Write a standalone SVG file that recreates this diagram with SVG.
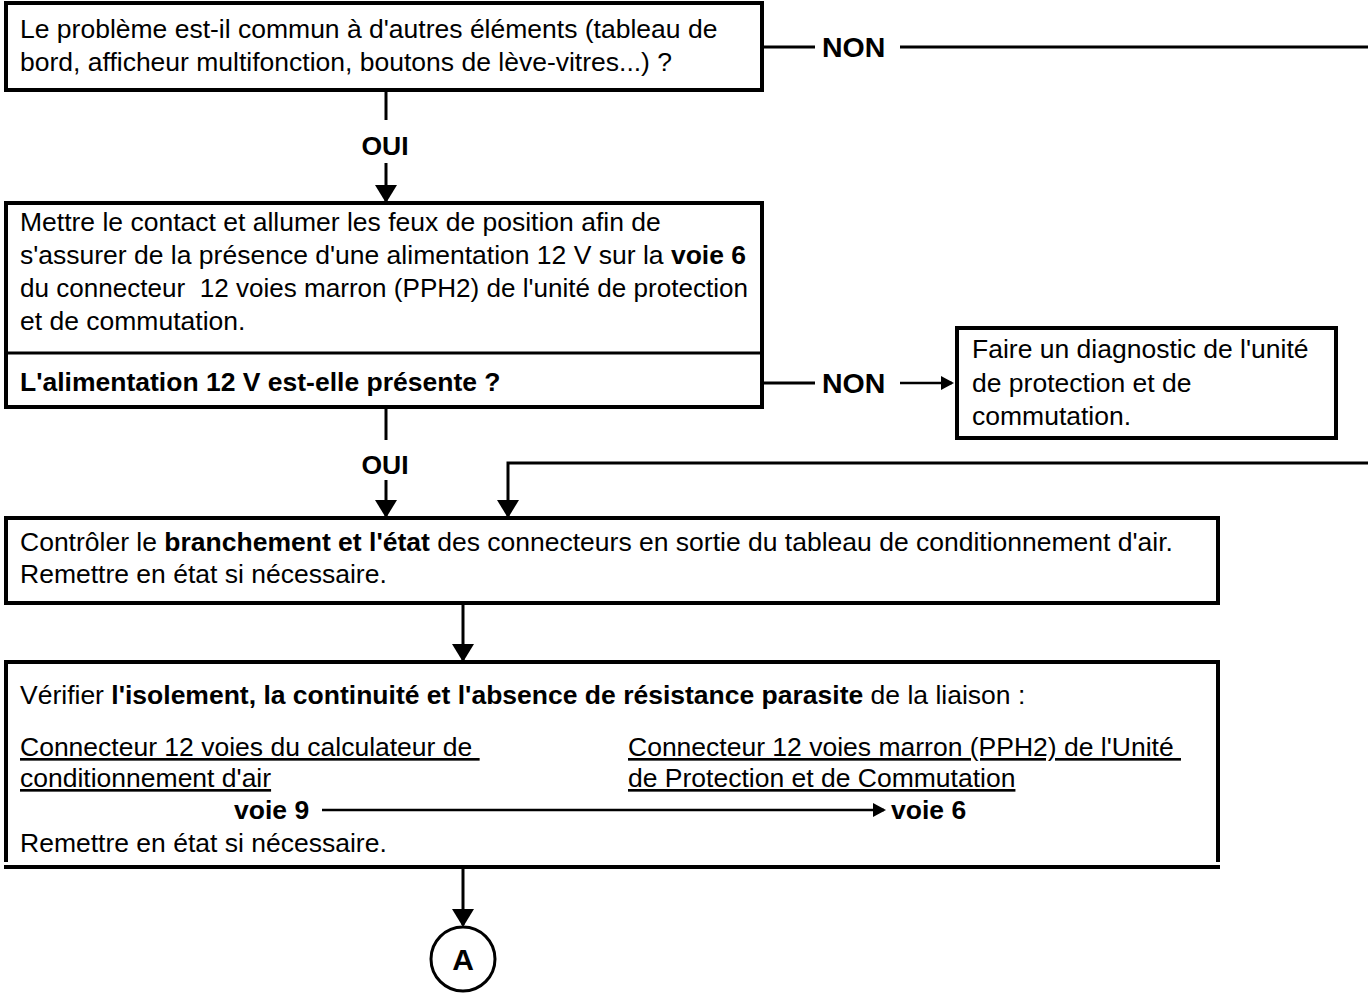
<svg xmlns="http://www.w3.org/2000/svg" width="1368" height="994" viewBox="0 0 1368 994">
<style>
text{font-family:"Liberation Sans",Arial,sans-serif;font-size:26.5px;fill:#000;white-space:pre}
.b{font-weight:bold}
.u{text-decoration:underline}
.non{font-weight:bold;font-size:28.5px}
.box{fill:#fff;stroke:#000;stroke-width:4}
.ln{fill:none;stroke:#000;stroke-width:3}
.lnv{fill:none;stroke:#000;stroke-width:3;marker-end:url(#ah)}
.lnh{fill:none;stroke:#000;stroke-width:2.5;marker-end:url(#ahs)}
.c{text-anchor:middle}
</style>
<defs>
<marker id="ah" markerUnits="userSpaceOnUse" markerWidth="20" markerHeight="22" refX="16" refY="11" orient="auto">
<path d="M0,0 L18,11 L0,22 z" fill="#000"/>
</marker>
<marker id="ahs" markerUnits="userSpaceOnUse" markerWidth="14" markerHeight="14" refX="11" refY="7" orient="auto">
<path d="M0,0 L13,7 L0,14 z" fill="#000"/>
</marker>
</defs>
<rect width="1368" height="994" fill="#fff"/>

<g id="connectors">
<line class="ln" x1="386" y1="90" x2="386" y2="120"/>
<text class="b c" x="385" y="155">OUI</text>
<line class="lnv" x1="386" y1="163" x2="386" y2="201"/>
<line class="ln" x1="762" y1="47" x2="815" y2="47"/>
<text class="non" x="822" y="57">NON</text>
<line class="ln" x1="900" y1="47" x2="1368" y2="47"/>
<line class="ln" x1="386" y1="407" x2="386" y2="440"/>
<text class="b c" x="385" y="474">OUI</text>
<line class="lnv" x1="386" y1="480" x2="386" y2="516"/>
<path class="lnv" d="M1368,463 H508 V516"/>
<line class="ln" x1="762" y1="383" x2="815" y2="383"/>
<text class="non" x="822" y="393">NON</text>
<line class="lnh" x1="900" y1="383" x2="952" y2="383"/>
<line class="lnv" x1="463" y1="603" x2="463" y2="660"/>
<line class="lnv" x1="463" y1="868" x2="463" y2="925"/>
</g>

<g id="n1">
<rect class="box" x="6" y="3" width="756" height="87"/>
<text x="20" y="38">Le problème est-il commun à d'autres éléments (tableau de</text>
<text x="20" y="71">bord, afficheur multifonction, boutons de lève-vitres...) ?</text>
</g>

<g id="n2">
<rect class="box" x="6" y="203" width="756" height="204"/>
<line class="ln" x1="6" y1="353" x2="762" y2="353"/>
<text x="20" y="231">Mettre le contact et allumer les feux de position afin de</text>
<text x="20" y="264">s'assurer de la présence d'une alimentation 12 V sur la <tspan class="b">voie 6</tspan></text>
<text x="20" y="297" textLength="728" lengthAdjust="spacingAndGlyphs">du connecteur  12 voies marron (PPH2) de l'unité de protection</text>
<text x="20" y="330">et de commutation.</text>
<text class="b" x="20" y="391">L'alimentation 12 V est-elle présente ?</text>
</g>

<g id="n3">
<rect class="box" x="957" y="328" width="379" height="110"/>
<text x="972" y="358">Faire un diagnostic de l'unité</text>
<text x="972" y="392">de protection et de</text>
<text x="972" y="425">commutation.</text>
</g>

<g id="n4">
<rect class="box" x="6" y="518" width="1212" height="85"/>
<text x="20" y="551">Contrôler le <tspan class="b">branchement et l'état</tspan> des connecteurs en sortie du tableau de conditionnement d'air.</text>
<text x="20" y="583">Remettre en état si nécessaire.</text>
</g>

<g id="n5">
<path d="M6,862 V662 H1218 V862" fill="#fff" stroke="#000" stroke-width="4"/>
<line x1="4" y1="867" x2="1220" y2="867" stroke="#000" stroke-width="4"/>
<text x="20" y="704">Vérifier <tspan class="b">l'isolement, la continuité et l'absence de résistance parasite</tspan> de la liaison :</text>
<text class="u" x="20" y="756">Connecteur 12 voies du calculateur de </text>
<text class="u" x="20" y="787">conditionnement d'air</text>
<text class="u" x="628" y="756">Connecteur 12 voies marron (PPH2) de l'Unité </text>
<text class="u" x="628" y="787">de Protection et de Commutation</text>
<text class="b" x="234" y="819">voie 9</text>
<line class="lnh" x1="322" y1="810" x2="884" y2="810"/>
<text class="b" x="891" y="819">voie 6</text>
<text x="20" y="852">Remettre en état si nécessaire.</text>
</g>

<g id="nA">
<circle cx="463" cy="959" r="32" fill="#fff" stroke="#000" stroke-width="3"/>
<text class="b c" x="463" y="970" style="font-size:30px">A</text>
</g>
</svg>
